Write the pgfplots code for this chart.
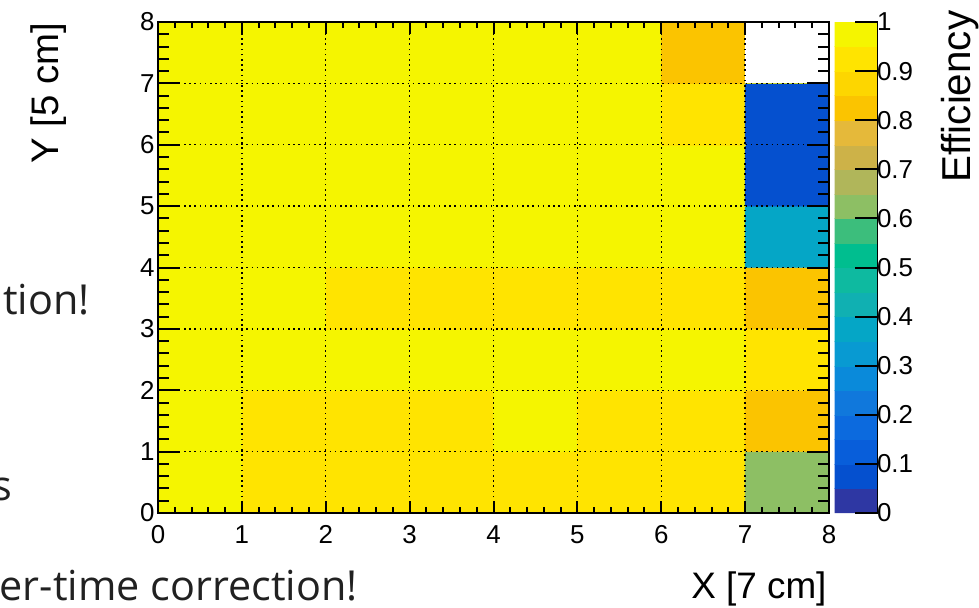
\documentclass[border=0pt]{standalone}
\usepackage{fontspec}
\setmainfont{Liberation Sans}
\newfontfamily\slidefont{Open Sans}
\usepackage{pgfplots}
\usepackage{pgfplotstable}
\pgfplotsset{compat=1.18}

\pgfplotstableread{
x y c
0.5 0.5 0.975
1.5 0.5 0.925
2.5 0.5 0.925
3.5 0.5 0.925
4.5 0.5 0.925
5.5 0.5 0.925
6.5 0.5 0.925
7.5 0.5 0.625
0.5 1.5 0.975
1.5 1.5 0.925
2.5 1.5 0.925
3.5 1.5 0.925
4.5 1.5 0.975
5.5 1.5 0.925
6.5 1.5 0.925
7.5 1.5 0.825
0.5 2.5 0.975
1.5 2.5 0.975
2.5 2.5 0.975
3.5 2.5 0.975
4.5 2.5 0.975
5.5 2.5 0.975
6.5 2.5 0.975
7.5 2.5 0.925
0.5 3.5 0.975
1.5 3.5 0.975
2.5 3.5 0.925
3.5 3.5 0.925
4.5 3.5 0.925
5.5 3.5 0.925
6.5 3.5 0.925
7.5 3.5 0.825
0.5 4.5 0.975
1.5 4.5 0.975
2.5 4.5 0.975
3.5 4.5 0.975
4.5 4.5 0.975
5.5 4.5 0.975
6.5 4.5 0.975
7.5 4.5 0.375
0.5 5.5 0.975
1.5 5.5 0.975
2.5 5.5 0.975
3.5 5.5 0.975
4.5 5.5 0.975
5.5 5.5 0.975
6.5 5.5 0.975
7.5 5.5 0.075
0.5 6.5 0.975
1.5 6.5 0.975
2.5 6.5 0.975
3.5 6.5 0.975
4.5 6.5 0.975
5.5 6.5 0.975
6.5 6.5 0.925
7.5 6.5 0.075
0.5 7.5 0.975
1.5 7.5 0.975
2.5 7.5 0.975
3.5 7.5 0.975
4.5 7.5 0.975
5.5 7.5 0.975
6.5 7.5 0.825
7.5 7.5 0.975
}\effdata

\begin{document}
\begin{tikzpicture}
\useasboundingbox (0,0) rectangle (979bp,608bp);
\clip (0,0) rectangle (979bp,608bp);

\node[anchor=base east, font=\slidefont\fontsize{41.5}{44}\selectfont, text=black!87] at (93bp,293bp) {tion!};
\node[anchor=base east, font=\slidefont\fontsize{41.5}{44}\selectfont, text=black!87] at (16bp,107bp) {s};
\node[anchor=base east, font=\slidefont\fontsize{41.5}{44}\selectfont, text=black!87] at (361bp,8bp) {er-time correction!};

\begin{axis}[
  at={(158bp,95bp)}, anchor=south west,
  scale only axis, width=671bp, height=491bp,
  clip=false,
  xmin=0, xmax=8, ymin=0, ymax=8,
  xtick={0,1,2,3,4,5,6,7,8}, ytick={0,1,2,3,4,5,6,7,8},
  minor y tick num=4,
  tick align=inside, tick pos=both,
  major tick length=22bp, minor tick length=11bp,
  xtick style={draw=none},
  ytick style={line width=2bp, black},
  grid=major,
  major grid style={black, line width=1.3bp, dash pattern=on 1.6bp off 3.6bp},
  axis on top,
  axis line style={line width=1.6bp},
  ticklabel style={font=\fontsize{26}{28}\selectfont},
  xticklabel shift=9bp,
  /pgf/number format/assume math mode=true,
  xlabel={X [7 cm]},
  ylabel={Y [5 cm]},
  xlabel style={at={(axis description cs:1.0015,-0.155)}, anchor=east, font=\fontsize{37}{40}\selectfont},
  ylabel style={at={(axis description cs:-0.163,1.005)}, anchor=east, font=\fontsize{38.5}{40}\selectfont},
  colormap={rootbird}{
    rgb255=(46,55,163) rgb255=(5,80,207) rgb255=(8,94,218) rgb255=(12,106,222)
    rgb255=(16,120,220) rgb255=(10,138,218) rgb255=(8,154,210) rgb255=(5,166,198)
    rgb255=(16,176,178) rgb255=(14,186,160) rgb255=(0,190,143) rgb255=(60,190,124)
    rgb255=(141,191,100) rgb255=(176,182,90) rgb255=(205,178,72) rgb255=(229,185,58)
    rgb255=(251,196,0) rgb255=(253,214,0) rgb255=(255,228,0) rgb255=(245,245,0)},
  colormap access=piecewise constant,
  point meta min=0, point meta max=1,
  colorbar sampled,
  colorbar style={
    samples=21,
    scale only axis,
    axis on top,
    width=43bp, height=491bp,
    at={(parent axis.north east)}, anchor=north west, xshift=-3bp,
    ytick={0,0.1,0.2,0.3,0.4,0.5,0.6,0.7,0.8,0.9,1},
    yticklabels={0,0.1,0.2,0.3,0.4,0.5,0.6,0.7,0.8,0.9,1},
    axis x line=none, axis y line*=right,
    tick align=inside,
    /pgfplots/major tick length=23bp,
    ytick style={line width=2bp, black},
    axis line style={line width=1.6bp},
    yticklabel style={font=\fontsize{26}{28}\selectfont, xshift=-4bp},
    /pgf/number format/assume math mode=true,
  },
]
\addplot [matrix plot*, mesh/cols=8, point meta=explicit] table [x=x, y=y, meta=c] {\effdata};
\addplot [draw=none, fill=white, forget plot] coordinates {(7,7) (8,7) (8,8) (7,8)} -- cycle;
\node[rotate=90, anchor=east, font=\fontsize{40.5}{44}\selectfont] at (axis description cs:1.195,1.03) {Efficiency};
\end{axis}

\begin{axis}[
  at={(158bp,95bp)}, anchor=south west,
  scale only axis, width=671bp, height=491bp,
  xmin=0, xmax=8, ymin=0, ymax=8,
  xtick={0,1,2,3,4,5,6,7,8}, ytick=\empty,
  minor x tick num=4,
  xticklabels={,,,,,,,,},
  tick align=inside, xtick pos=both,
  major tick length=12bp, minor tick length=6bp,
  xtick style={line width=2bp, black},
  axis line style={line width=1.6bp},
]
\end{axis}
\end{tikzpicture}
\end{document}
